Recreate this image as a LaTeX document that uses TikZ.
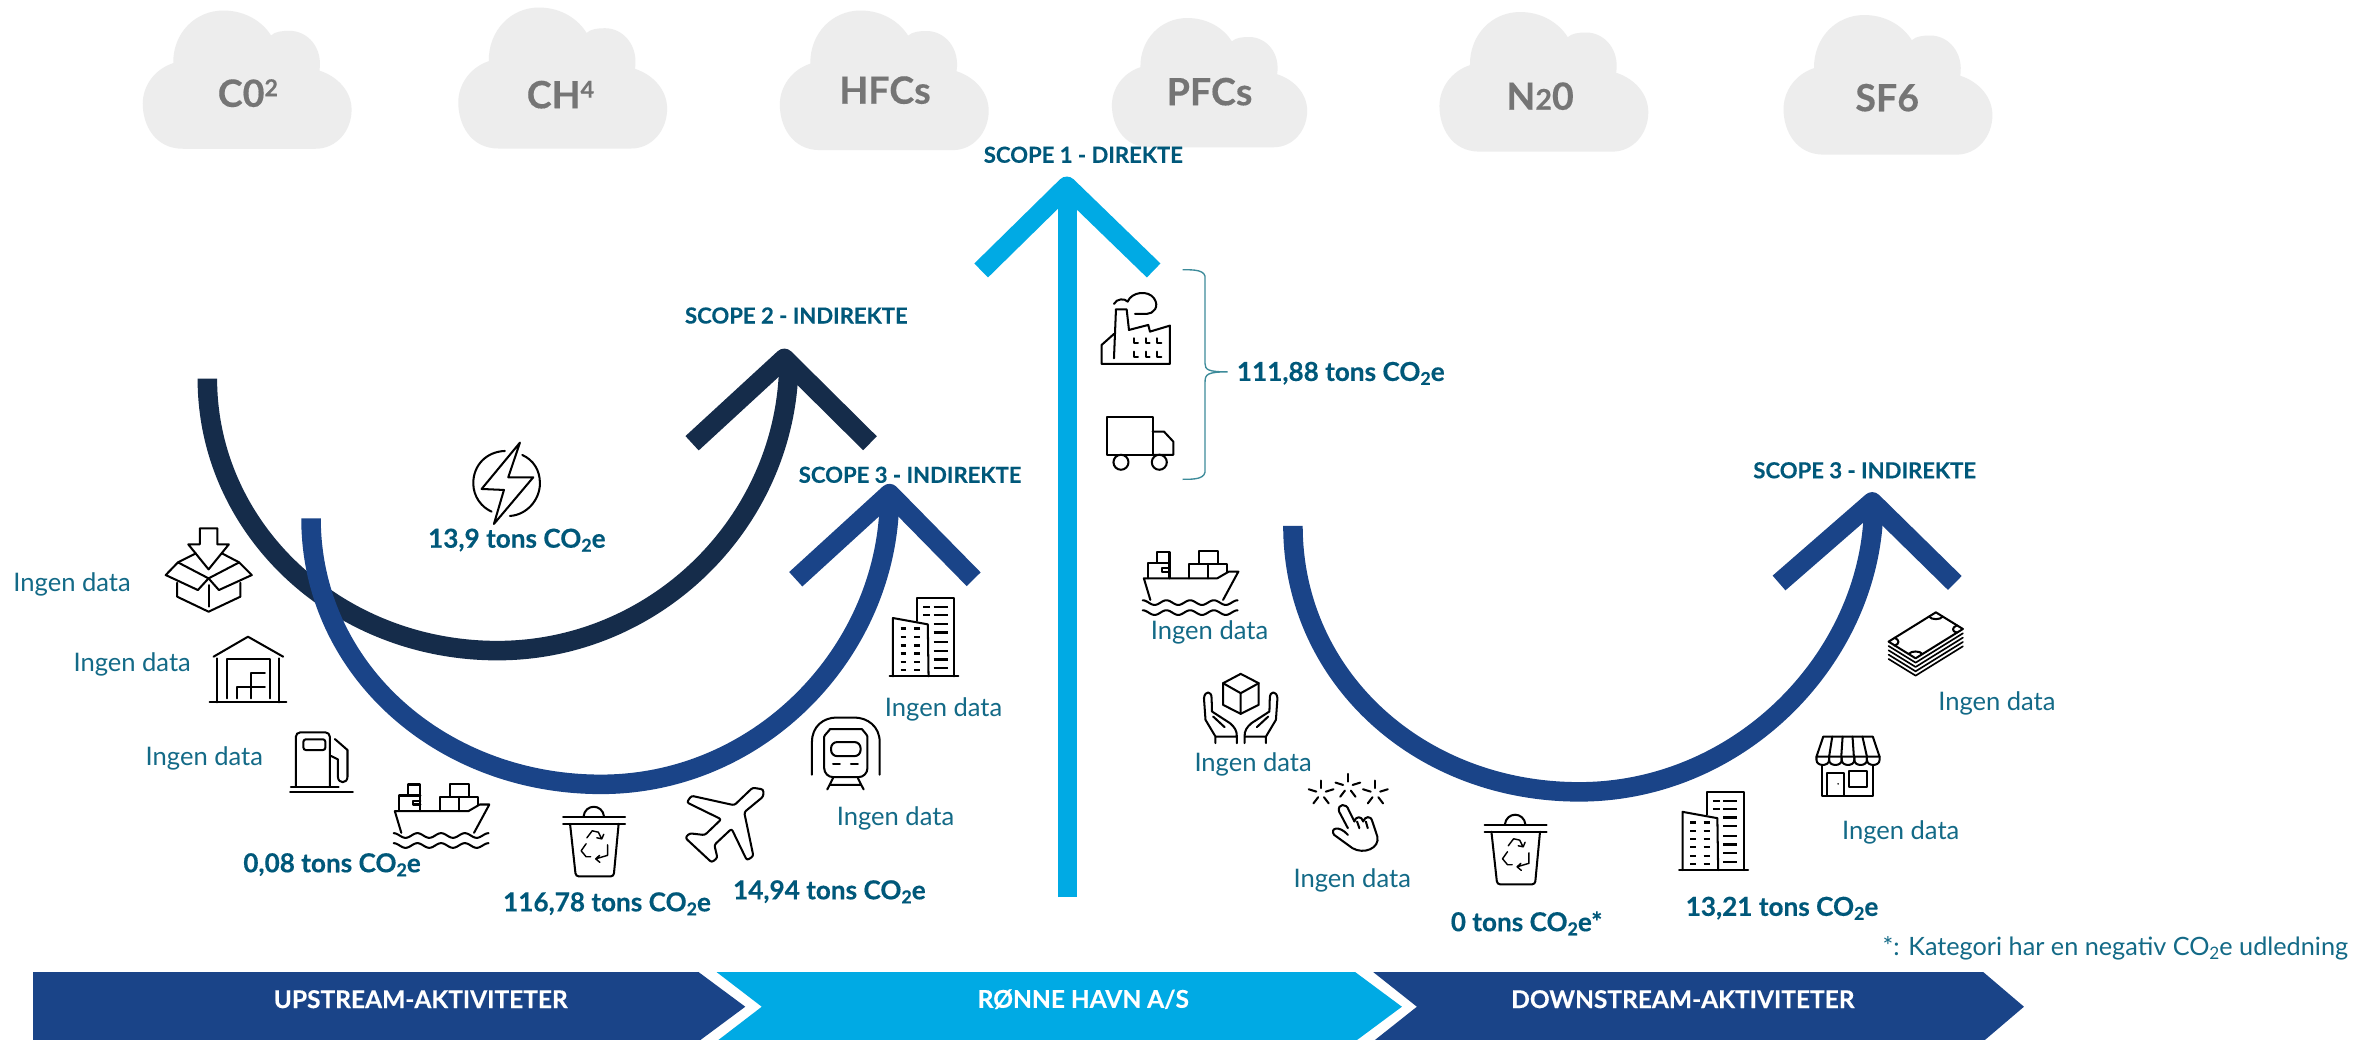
\documentclass[tikz,border=0pt]{standalone}
\usepackage{fontspec}
\setmainfont{Lato}[BoldFeatures={FakeBold=0.35}]
\newcommand{\lowtwo}{\raisebox{-.3ex}{\scalebox{.68}{2}}}
\newcommand{\hightxt}[1]{\raisebox{.55ex}{\scalebox{.62}{#1}}}
\newcommand{\tons}[1]{#1 tons CO\lowtwo e}
\newcommand{\icon}[4]{\begin{scope}[shift={(#1,#2)},#3]\pic{#4};\end{scope}}
\definecolor{dkarc}{HTML}{152C4A}
\definecolor{blarc}{HTML}{1A4488}
\definecolor{cyarc}{HTML}{00AAE4}
\definecolor{boldtxt}{HTML}{00587A}
\definecolor{regtxt}{HTML}{136A87}
\definecolor{cloudc}{HTML}{EDEDED}
\definecolor{cloudt}{HTML}{757575}
\definecolor{brack}{HTML}{3D8B9A}
\tikzset{
  band/.style={line width=13pt,line cap=butt},
  head/.style={line width=13pt,line cap=butt,line join=round},
  boldlab/.style={text=boldtxt,font=\fontsize{17.4}{19}\selectfont\bfseries,inner sep=0pt,yshift=-1.5pt},
  scopelab/.style={text=boldtxt,font=\fontsize{14.7}{17}\selectfont\bfseries,inner sep=0pt},
  reglab/.style={text=regtxt,font=\fontsize{17}{19}\selectfont,inner sep=0pt,yshift=-1pt},
  footlab/.style={text=regtxt,font=\fontsize{16.8}{19}\selectfont,inner sep=0pt,yshift=-1pt},
  barlab/.style={text=white,font=\fontsize{16.3}{18}\selectfont\bfseries,inner sep=0pt},
  cloudlab/.style={text=cloudt,font=\fontsize{25}{28}\selectfont\bfseries,inner sep=0pt},
  il/.style={draw=black,line width=1.35pt,line join=round,line cap=round},
  scA/.style={x=.2547pt,y=-.2218pt},
  scB/.style={x=.2547pt,y=-.2335pt},
  scC/.style={x=.2218pt,y=-.2218pt},
  scD/.style={x=.2998pt,y=-.2218pt},
  pics/cloud/.style={code={
    \fill[cloudc] (26.8,92) .. controls (8,92) and (0,76) .. (0,62)
      .. controls (0,50) and (8,39) .. (20.3,35)
      .. controls (20,15) and (35,0) .. (53.6,0)
      .. controls (69,0) and (80,8) .. (85.4,16.6)
      .. controls (88,14) and (93,13.5) .. (97.6,13.5)
      .. controls (110,13.5) and (120,25) .. (117.6,40)
      .. controls (130,44) and (139,54) .. (139,66)
      .. controls (139,80) and (129,92) .. (115,92) -- cycle;
  }},
  pics/ship/.style={code={
    \draw[il] (20,150) -- (3,85) -- (195,85) -- (225,65) -- (250,65) -- (210,150);
    \draw[il] (15,85) -- (15,38) -- (38,38) -- (38,5) -- (70,5) -- (70,85);
    \draw[il] (38,38) -- (70,38) (70,55) -- (50,55) -- (50,65) -- (70,65);
    \draw[il] (122,85) -- (122,42) -- (220,42) -- (220,65) (170,42) -- (170,85);
    \draw[il] (148,42) -- (148,3) -- (196,3) -- (196,42);
    \draw[il] plot[domain=0:248,samples=70] (\x,{158-7*cos(\x/62*360)});
    \draw[il] plot[domain=0:248,samples=70] (\x,{188-7*cos(\x/62*360)});
  }},
  pics/bin/.style={code={
    \draw[il] (0,38) -- (162,38) (0,58) -- (162,58);
    \draw[il] (53,38) .. controls (57,0) and (103,0) .. (107,38);
    \draw[il,rounded corners=2pt] (18,58) -- (33,208) -- (132,208) -- (145,58);
    \draw[il,line width=.95pt] (60,115) -- (47,135) -- (60,152) -- (72,152);
    \draw[il,line width=.95pt] (62,98) -- (76,78) -- (92,82) -- (100,100) (88,98) -- (101,101) -- (106,88);
    \draw[il,line width=.95pt] (116,118) -- (116,148) -- (85,158) (95,148) -- (85,158) -- (96,168);
  }},
  pics/tower/.style={code={
    \draw[il] (0,223) -- (180,223);
    \draw[il] (72,65) -- (72,0) -- (169,0) -- (169,223);
    \draw[il] (9,223) -- (9,57) -- (100,75) -- (102,223);
    \foreach \yy in {87,111,135,158,182,206}{
      \draw[il,line width=1.5pt,line cap=butt] (29,\yy) -- (43,\yy) (64,\yy) -- (80,\yy);
    }
    \foreach \yy in {25,48}{
      \draw[il,line width=1.5pt,line cap=butt] (88,\yy) -- (106,\yy);
    }
    \foreach \yy in {25,48,73,98,125,150,175,200}{
      \draw[il,line width=1.5pt,line cap=butt] (115,\yy) -- (152,\yy);
    }
  }},
  pics/boxicon/.style={code={
    \draw[il] (522,85) -- (568,85) -- (568,133) -- (598,133) -- (545,208) -- (492,133) -- (522,133) -- cycle;
    \draw[il] (465,187) -- (433,225) -- (517,270) -- (545,235) -- cycle;
    \draw[il] (625,187) -- (658,225) -- (572,270) -- (545,235) -- cycle;
    \draw[il] (465,187) -- (512,160) (625,187) -- (580,160);
    \draw[il] (463,248) -- (463,290) -- (545,335) -- (628,290) -- (628,248);
    \draw[il] (545,255) -- (545,320);
  }},
  pics/warehouse/.style={code={
    \draw[il] (558,470) -- (648,410) -- (740,470);
    \draw[il] (568,475) -- (568,607) (728,475) -- (728,607) (548,607) -- (748,607);
    \draw[il] (593,595) -- (593,478) -- (705,478) -- (705,595);
    \draw[il] (620,595) -- (620,560) -- (692,560) (655,595) -- (655,520) -- (692,520);
  }},
  pics/pump/.style={code={
    \draw[il,rounded corners=3pt] (773,860) -- (773,697) -- (862,697) -- (862,860);
    \draw[il,rounded corners=1.5pt] (793,718) rectangle (850,750);
    \draw[il] (760,860) -- (885,860) (758,877) -- (922,877);
    \draw[il] (875,717) -- (908,750) -- (908,830) .. controls (908,852) and (883,852) .. (883,830) -- (883,778) -- (865,768);
  }},
  pics/plane/.style={code={
    \draw[il,rounded corners=1.5pt] (688,1110) -- (660,1105) -- (612,1155) -- (500,1128) -- (488,1147)
      -- (578,1195) -- (535,1240) -- (495,1235) -- (484,1248) -- (553,1318) -- (568,1305)
      -- (560,1268) -- (605,1222) -- (645,1312) -- (662,1300) -- (638,1175) -- (688,1130) -- cycle;
  }},
  pics/train/.style={code={
    \draw[il] (815,1068) -- (815,975) .. controls (815,930) and (845,905) .. (880,905) -- (925,905)
      .. controls (960,905) and (992,930) .. (992,975) -- (992,1068);
    \draw[il,rounded corners=6pt] (847,1075) -- (847,985) .. controls (847,955) and (865,938) .. (885,938)
      -- (922,938) .. controls (945,938) and (960,955) .. (960,985) -- (960,1075) -- cycle;
    \draw[il,rounded corners=4pt] (865,975) rectangle (942,1015);
    \draw[il] (870,1037) -- (888,1037) (917,1037) -- (935,1037);
    \draw[il] (870,1078) -- (855,1110) (935,1078) -- (950,1110) (862,1097) -- (943,1097);
  }},
  pics/factory/.style={code={
    \draw[il] (192,612) -- (155,645) -- (155,702) -- (360,702) -- (360,587) -- (300,605) -- (295,585) -- (237,600) -- (230,538) -- (198,538) -- (192,685);
    \draw[il] (192,522) .. controls (200,505) and (225,505) .. (233,515) .. controls (245,485) and (295,480) .. (312,505)
      .. controls (330,530) and (310,552) .. (290,552) -- (255,552);
    \foreach \yy in {625,665}{\foreach \xx in {252,287,322}{
      \draw[il,line width=1.4pt] (\xx,\yy) -- (\xx,\yy+15) -- (\xx+12,\yy+15);
    }}
  }},
  pics/truck/.style={code={
    \draw[il] (308,975) -- (172,975) -- (172,862) -- (308,862) -- (308,975);
    \draw[il] (308,905) -- (342,905) -- (370,935) -- (370,975) -- (308,975);
    \draw[il,fill=white] (213,997) circle[radius=5pt];
    \draw[il,fill=white] (328,997) circle[radius=5pt];
  }},
  pics/bolt/.style={code={
    \draw[il] (240,68) -- (205,172) -- (280,172) -- (162,312) -- (192,210) -- (125,207) -- cycle;
    \draw[il] (195,93) .. controls (140,95) and (100,135) .. (100,190) .. controls (100,230) and (125,262) .. (155,275);
    \draw[il] (247,105) .. controls (280,120) and (300,150) .. (300,190) .. controls (300,240) and (260,285) .. (210,288);
  }},
  pics/hands/.style={code={
    \draw[il] (368,462) -- (415,490) -- (415,555) -- (368,582) -- (322,555) -- (322,490) -- cycle;
    \draw[il] (322,490) -- (368,520) -- (415,490) (368,520) -- (368,582);
    \draw[il] (302,670) -- (302,650) -- (276,600) -- (272,535) .. controls (274,512) and (292,512) .. (292,535)
      -- (293,575) -- (340,610) .. controls (352,622) and (358,632) .. (358,650) -- (358,670) (302,650) -- (358,650) (296,590) -- (326,622);
    \draw[il] (434,670) -- (434,650) -- (460,600) -- (464,535) .. controls (462,512) and (444,512) .. (444,535)
      -- (443,575) -- (396,610) .. controls (384,622) and (378,632) .. (378,650) -- (378,670) (434,650) -- (378,650) (440,590) -- (410,622);
  }},
  pics/pointer/.style={code={
    \foreach \cx/\cy in {578/820,648/800,720/820}{
      \foreach \a in {90,162,234,306,18}{
        \draw[il] ({\cx+13*cos(\a)},{\cy-15*sin(\a)}) -- ({\cx+34*cos(\a)},{\cy-38*sin(\a)});
      }
    }
    \draw[il] (648,925) -- (625,875) .. controls (620,850) and (645,850) .. (650,870) -- (665,905)
      .. controls (668,888) and (685,888) .. (688,905) .. controls (692,890) and (708,885) .. (712,905)
      -- (725,950) .. controls (732,985) and (690,1005) .. (660,985) -- (612,945) .. controls (600,925) and (625,915) .. (648,945);
    \draw[il] (672,905) -- (678,925) (695,905) -- (700,925);
  }},
  pics/shop/.style={code={
    \draw[il] (385,470) -- (495,470) -- (510,530) -- (370,530) -- cycle;
    \draw[il] (405,470) -- (398,530) (428,470) -- (425,530) (450,470) -- (453,530) (472,470) -- (482,530);
    \foreach \xa in {370,398,426,454,482}{
      \draw[il] (\xa,530) -- (\xa,540) .. controls (\xa,560) and (\xa+28,560) .. (\xa+28,540) -- (\xa+28,530);
    }
    \draw[il] (383,556) -- (383,648) -- (495,648) -- (495,556);
    \draw[il] (393,648) -- (393,580) -- (430,580) -- (430,648);
    \draw[il] (442,572) rectangle (483,622);
    \fill (418,612) circle[radius=.6pt];
  }},
  pics/money/.style={code={
    \draw[il] (635,97) -- (695,147) -- (590,235) -- (530,185) -- cycle;
    \draw[il] (620,110) .. controls (625,120) and (645,120) .. (650,110);
    \draw[il] (682,136) .. controls (670,142) and (670,155) .. (682,158);
    \draw[il] (543,173) .. controls (555,180) and (555,192) .. (543,197);
    \draw[il] (575,222) .. controls (580,212) and (600,212) .. (605,222);
    \foreach \i in {1,2,3,4}{
      \draw[il,line width=1.1pt] (530,{185+13*\i}) -- (590,{235+13*\i}) -- (695,{147+13*\i});
    }
  }},
}
\begin{document}
\begin{tikzpicture}[x=1pt,y=-1pt]
\useasboundingbox (0,0) rectangle (1568,691.5);
\fill[white] (0,0) rectangle (1568,691.5);
% clouds
\icon{95}{7}{}{cloud}
\icon{305}{5}{y=-1.02pt}{cloud}
\icon{519}{7}{y=-1.01pt}{cloud}
\icon{740}{12}{x=.935pt,y=-.935pt}{cloud}
\icon{958}{8}{y=-1.01pt}{cloud}
\icon{1187}{10}{y=-1.01pt}{cloud}
\node[cloudlab] (gas1) at (165,62) {C0\hightxt{2}};
\node[cloudlab] (gas2) at (373,63) {CH\hightxt{4}};
\node[cloudlab] (gas3) at (589,60) {HFCs};
\node[cloudlab] (gas4) at (805,61) {PFCs};
\node[cloudlab] (gas5) at (1025,64) {N{\fontsize{19}{21}\selectfont 2}0};
\node[cloudlab] (gas6) at (1256,65) {SF6};
% scope 2
\draw[band,dkarc] (138,252) .. controls (138,352) and (224,433) .. (331,433) .. controls (438,433) and (525,345) .. (525,240);
\draw[head,dkarc] (460.6,295) -- (522,238.5) -- (579,295);
% scope 3 left
\draw[band,blarc] (207,345) .. controls (207,445) and (293,522) .. (400,522) .. controls (507,522) and (592,432) .. (592,330);
\draw[head,blarc] (529.6,385.5) -- (592,328.5) -- (648,385.5);
% scope 1
\draw[band,cyarc] (710.5,597) -- (710.5,125);
\draw[head,cyarc] (653,180) -- (710,124) -- (767.8,180);
% scope 3 right
\draw[band,blarc] (860.5,350) .. controls (860.5,450) and (944,527) .. (1051,527) .. controls (1160,527) and (1247,435) .. (1247,335);
\draw[head,blarc] (1184,388) -- (1246,334) -- (1301,388);
% bracket
\draw[brack,line width=.9pt] (787,179.5) .. controls (795,179.5) and (803,179.5) .. (802,186) -- (802,242) .. controls (802,246) and (804,247.5) .. (817,247.5)
  (817,247.5) .. controls (804,247.5) and (802,249) .. (802,254) -- (802,312) .. controls (803,319) and (795,319) .. (787,319);
% icons
\icon{0}{332.8}{scA}{boxicon}
\icon{0}{332.8}{scA}{warehouse}
\icon{0}{332.8}{scA}{pump}
\icon{262}{521}{scA}{ship}
\icon{760.5}{366}{scA}{ship}
\icon{374.8}{534.7}{scB}{bin}
\icon{988}{540}{scB}{bin}
\icon{332.8}{266.2}{scB}{plane}
\icon{332.8}{266.2}{scB}{train}
\icon{592}{398}{scB}{tower}
\icon{1117.5}{527}{scB}{tower}
\icon{698.8}{86.5}{scC}{factory}
\icon{698.8}{86.5}{scC}{truck}
\icon{292.8}{279.5}{scC}{bolt}
\icon{732}{346}{scA}{hands}
\icon{732}{346}{scA}{pointer}
\icon{1098}{386}{scD}{shop}
\icon{1098}{386}{scD}{money}
% scope labels
\node[scopelab] (s1) at (721,103) {SCOPE 1 - DIREKTE};
\node[scopelab] (s2) at (530,210) {SCOPE 2 - INDIREKTE};
\node[scopelab] (s3a) at (605.7,316) {SCOPE 3 - INDIREKTE};
\node[scopelab] (s3b) at (1241,313) {SCOPE 3 - INDIREKTE};
% values
\node[boldlab,anchor=west] (v1) at (823,247) {\tons{111,88}};
\node[boldlab] (v2) at (344,358) {\tons{13,9}};
\node[boldlab] (v3) at (221,574) {\tons{0,08}};
\node[boldlab] (v4) at (404,600) {\tons{116,78}};
\node[boldlab] (v5) at (552,592) {\tons{14,94}};
\node[boldlab] (v6) at (1016,613) {\tons{0}*};
\node[boldlab] (v7) at (1186,603) {\tons{13,21}};
% no data
\node[reglab] (n1) at (48,388) {Ingen data};
\node[reglab] (n2) at (88,441) {Ingen data};
\node[reglab] (n3) at (136,504) {Ingen data};
\node[reglab] (n4) at (628,471) {Ingen data};
\node[reglab] (n5) at (596,544) {Ingen data};
\node[reglab] (n6) at (805,420) {Ingen data};
\node[reglab] (n7) at (834,508) {Ingen data};
\node[reglab] (n8) at (900,585) {Ingen data};
\node[reglab] (n9) at (1329,467) {Ingen data};
\node[reglab] (n10) at (1265,553) {Ingen data};
\node[footlab,anchor=east] (foot) at (1563,630) {*: Kategori har en negativ CO\lowtwo e udledning};
% bottom bars
\begin{scope}
\clip (0,0) rectangle (1568,691.5);
\fill[blarc] (22,647) -- (465,647) -- (496,670) -- (465,693) -- (22,693) -- cycle;
\fill[cyarc] (477,647) -- (902,647) -- (933,670) -- (902,693) -- (477,693) -- (507,670) -- cycle;
\fill[blarc] (914,647) -- (1320,647) -- (1347,670) -- (1320,693) -- (914,693) -- (943,670) -- cycle;
\end{scope}
\node[barlab] (b1) at (280,665) {UPSTREAM-AKTIVITETER};
\node[barlab] (b2) at (721,665) {RØNNE HAVN A/S};
\node[barlab] (b3) at (1120,665) {DOWNSTREAM-AKTIVITETER};
\end{tikzpicture}
\end{document}
